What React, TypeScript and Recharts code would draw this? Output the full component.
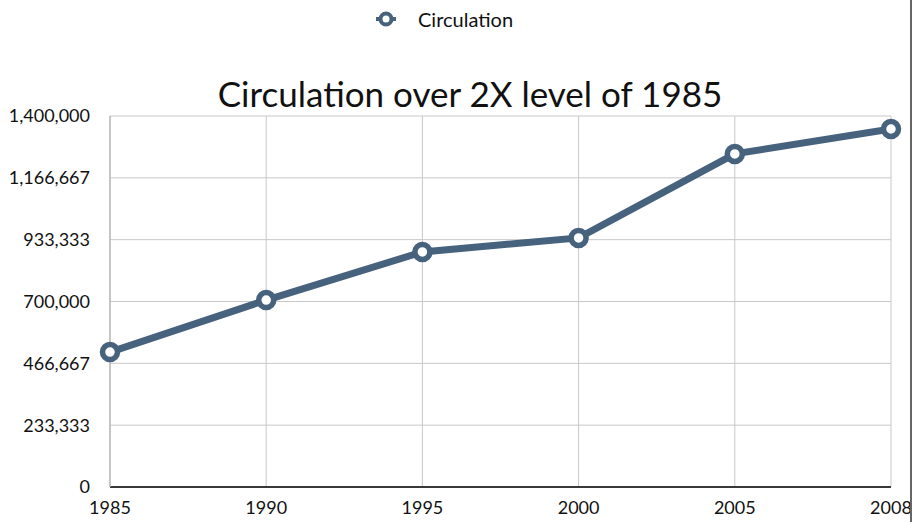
import { LineChart, Line, XAxis, YAxis, CartesianGrid } from "recharts";

const years = ["1985", "1990", "1995", "2000", "2005", "2008"];
const circulation = [509000, 705500, 887000, 940000, 1257000, 1351000];
const yTicks = [0, 233333.33, 466666.67, 700000, 933333.33, 1166666.67, 1400000];

const data = years.map((y, i) => ({ year: y, circulation: circulation[i] }));

const LINE = "#46627d";
const FONT = "Lato, 'Open Sans', sans-serif";

const fmt = (v: number) => Math.round(v).toLocaleString("en-US");

export default function App() {
  return (
    <div style={{ position: "absolute", left: 0, top: 0, width: 913, height: 522, background: "#fff", fontFamily: FONT }}>
      <div style={{ position: "absolute", top: 7, left: 375, display: "flex", alignItems: "center", gap: 21, fontSize: 20, color: "#111" }}>
        <svg width={22} height={22}>
          <line x1={1} y1={11} x2={21} y2={11} stroke={LINE} strokeWidth={4} />
          <circle cx={11} cy={11} r={5.5} fill="#fff" stroke={LINE} strokeWidth={4} />
        </svg>
        <span>Circulation</span>
      </div>
      <div style={{ position: "absolute", top: 72, left: 0, width: 940, textAlign: "center", fontSize: 35, color: "#111" }}>
        Circulation over 2X level of 1985
      </div>
      <LineChart width={913} height={522} data={data} margin={{ top: 116, right: 22, left: 0, bottom: 0 }}>
        <CartesianGrid stroke="#c8c8c8" strokeWidth={1} />
        <XAxis
          dataKey="year"
          interval={0}
          height={35}
          tickLine={false}
          tickSize={6}
          tickMargin={8}
          axisLine={{ stroke: "#000", strokeWidth: 1.5 }}
          tick={{ fill: "#111", fontSize: 18, fontFamily: FONT }}
        />
        <YAxis
          type="number"
          domain={[0, 1400000]}
          ticks={yTicks}
          interval={0}
          width={110}
          tickLine={false}
          tickSize={6}
          tickMargin={14}
          tickFormatter={fmt}
          axisLine={{ stroke: "#bbb", strokeWidth: 1.5 }}
          tick={{ fill: "#111", fontSize: 18, fontFamily: FONT }}
        />
        <Line
          type="linear"
          dataKey="circulation"
          stroke={LINE}
          strokeWidth={7}
          dot={{ r: 7.5, fill: "#fff", stroke: LINE, strokeWidth: 5.5 }}
          activeDot={false}
          isAnimationActive={false}
        />
      </LineChart>
      <div style={{ position: "absolute", top: 0, left: 910, width: 2, height: 522, background: "#666" }} />
    </div>
  );
}
